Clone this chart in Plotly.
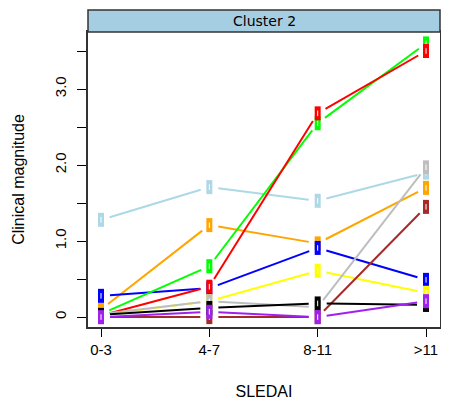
import plotly.graph_objects as go

categories = ["0-3", "4-7", "8-11", ">11"]

series_names = ["s1", "s2", "s3", "s4", "s5", "s6", "s7", "s8", "s9", "s10"]
series_colors = ["#ADD8E6", "#FFA500", "#0000FF", "#00FF00", "#FF0000",
                 "#FFFF00", "#BEBEBE", "#A52A2A", "#000000", "#A020F0"]
lightblue_vals = [1.28, 1.71, 1.53, 1.90]
orange_vals = [0.10, 1.21, 0.97, 1.70]
blue_vals = [0.28, 0.38, 0.91, 0.49]
green_vals = [0.04, 0.67, 2.55, 3.60]
red_vals = [0.02, 0.40, 2.68, 3.50]
yellow_vals = [0.03, 0.21, 0.61, 0.32]
gray_vals = [0.04, 0.21, 0.13, 1.97]
brown_vals = [0.00, 0.00, 0.00, 1.45]
black_vals = [0.03, 0.12, 0.18, 0.16]
purple_vals = [0.00, 0.07, 0.00, 0.21]
series_values = [lightblue_vals, orange_vals, blue_vals, green_vals, red_vals,
                 yellow_vals, gray_vals, brown_vals, black_vals, purple_vals]

ytick_vals = [0, 0.5, 1.0, 1.5, 2.0, 2.5, 3.0, 3.5]
ytick_text = ["0", "", "1.0", "", "2.0", "", "3.0", ""]

# layout geometry (page body has an 8px margin, so the figure is offset)
W, H = 433, 392
ml, mr, mt, mb = 80, 1, 24, 73
xr = [-0.12, 3.129]
yr = [-0.13, 3.75]
pw, ph = W - ml - mr, H - mt - mb
sx = pw / (xr[1] - xr[0])
sy = ph / (yr[1] - yr[0])
GAP = 9.0

fig = go.Figure()
xs = list(range(len(categories)))
for name, col, vals in zip(series_names, series_colors, series_values):
    lx, ly = [], []
    for i in range(len(xs) - 1):
        x0, y0, x1, y1 = xs[i], vals[i], xs[i + 1], vals[i + 1]
        L = ((x1 - x0) * sx) ** 2 + ((y1 - y0) * sy) ** 2
        L = L ** 0.5
        t = GAP / L if L > 0 else 0
        lx += [x0 + t * (x1 - x0), x1 - t * (x1 - x0), None]
        ly += [y0 + t * (y1 - y0), y1 - t * (y1 - y0), None]
    fig.add_trace(go.Scatter(x=lx, y=ly, mode="lines",
                             line=dict(color=col, width=2),
                             showlegend=False, hoverinfo="skip"))
    fig.add_trace(go.Scatter(x=xs, y=vals, mode="markers",
                             marker=dict(symbol="line-ns", size=10,
                                         line=dict(color=col, width=6)),
                             showlegend=False, name=name))
    fig.add_trace(go.Scatter(x=xs, y=vals, mode="markers",
                             marker=dict(symbol="line-ns", size=4,
                                         line=dict(color="white", width=1)),
                             showlegend=False, hoverinfo="skip"))

fig.update_layout(
    width=W, height=H,
    margin=dict(l=ml, r=mr, t=mt, b=mb, autoexpand=False),
    plot_bgcolor="white", paper_bgcolor="white",
    font=dict(family="Liberation Sans, Arial, sans-serif", size=14, color="black"),
    xaxis=dict(range=xr, tickvals=xs, ticktext=categories,
               showgrid=False, zeroline=False,
               ticks="outside", ticklen=8, tickcolor="black", tickwidth=1,
               ticklabeloverflow="allow",
               showline=True, linecolor="#333333", linewidth=1.5, mirror=True,
               tickfont=dict(size=15),
               title=dict(text="SLEDAI", font=dict(size=16), standoff=31)),
    yaxis=dict(range=yr, tickvals=ytick_vals, ticktext=ytick_text,
               showgrid=False, zeroline=False, tickangle=-90,
               ticks="outside", ticklen=9, tickcolor="black", tickwidth=1,
               ticklabelstandoff=5,
               showline=True, linecolor="#333333", linewidth=1.5, mirror=True,
               tickfont=dict(size=15),
               title=dict(text="Clinical magnitude", font=dict(size=16), standoff=24)),
    shapes=[dict(type="rect", xref="paper", yref="paper",
                 x0=0, x1=1, y0=1, y1=1 + 22 / ph,
                 fillcolor="#A6CEE3", line=dict(color="#333333", width=1.5))],
    annotations=[dict(text="Cluster 2", xref="paper", yref="paper",
                      x=0.5, y=1 + 11 / ph, showarrow=False,
                      font=dict(family="DejaVu Sans", size=14, color="black"),
                      xanchor="center", yanchor="middle")],
)

fig.write_html("out.html")
